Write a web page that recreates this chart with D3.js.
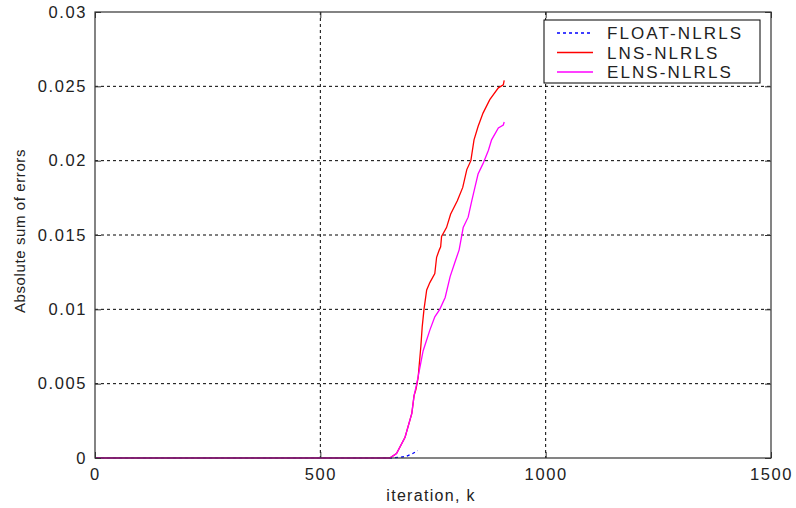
<!DOCTYPE html>
<html>
<head>
<meta charset="utf-8">
<script src="https://cdn.jsdelivr.net/npm/d3@7"></script>
<style>
  body { margin: 0; background: #fff; }
  text { font-family: "Liberation Sans", Arial, sans-serif; }
</style>
</head>
<body>
<div id="chart"></div>
<script>
// data
const xTicks = [0, 500, 1000, 1500];
const yTicks = [0, 0.005, 0.01, 0.015, 0.02, 0.025, 0.03];

const floatK = [0, 660, 690, 705, 716];
const floatV = [0, 0, 0.0001, 0.0003, 0.0005];

const lnsK = [0, 654, 669, 688, 703, 708, 712, 717, 723, 726, 730, 736, 743, 754, 758, 764, 767, 769, 780, 789, 804, 816, 825, 834, 841, 850, 861, 876, 895, 906, 908];
const lnsV = [0, 0, 0.0003, 0.0014, 0.003, 0.0042, 0.0046, 0.0054, 0.0075, 0.0088, 0.01, 0.0113, 0.0118, 0.0124, 0.0135, 0.014, 0.0142, 0.0149, 0.0155, 0.0164, 0.0173, 0.0182, 0.0194, 0.02, 0.0214, 0.0223, 0.0232, 0.0241, 0.0249, 0.0251, 0.0254];

const elnsK = [0, 654, 669, 688, 703, 708, 714, 721, 728, 743, 754, 765, 777, 788, 799, 808, 817, 828, 836, 843, 850, 861, 873, 880, 895, 906, 908];
const elnsV = [0, 0, 0.0003, 0.0014, 0.003, 0.0042, 0.005, 0.0061, 0.0072, 0.0086, 0.0095, 0.01, 0.0108, 0.0122, 0.0132, 0.014, 0.0155, 0.0162, 0.0173, 0.0182, 0.0191, 0.0198, 0.0207, 0.0214, 0.0222, 0.0224, 0.0226];

const seriesNames = ["FLOAT-NLRLS", "LNS-NLRLS", "ELNS-NLRLS"];

const series = [
  { name: seriesNames[0], k: floatK, v: floatV, color: "#0000ff", dash: "3,3" },
  { name: seriesNames[1], k: lnsK, v: lnsV, color: "#ff0000", dash: null },
  { name: seriesNames[2], k: elnsK, v: elnsV, color: "#ff00ff", dash: null }
];

const W = 796, H = 508;
const margin = { top: 12, right: 25, bottom: 50, left: 95 };
const width = W - margin.left - margin.right;
const height = H - margin.top - margin.bottom;

const svg = d3.select("#chart").append("svg")
  .attr("width", W).attr("height", H);
const g = svg.append("g").attr("transform", `translate(${margin.left},${margin.top})`);

const x = d3.scaleLinear().domain([0, 1500]).range([0, width]);
const y = d3.scaleLinear().domain([0, 0.03]).range([height, 0]);

// grid
g.append("g").selectAll("line").data(xTicks.slice(1, -1)).enter().append("line")
  .attr("x1", d => x(d)).attr("x2", d => x(d)).attr("y1", 0).attr("y2", height)
  .attr("stroke", "#000").attr("stroke-dasharray", "3,3");
g.append("g").selectAll("line").data(yTicks.slice(1, -1)).enter().append("line")
  .attr("x1", 0).attr("x2", width).attr("y1", d => y(d)).attr("y2", d => y(d))
  .attr("stroke", "#000").attr("stroke-dasharray", "3,3");

// lines
const line = d3.line().x(d => x(d[0])).y(d => y(d[1]));
series.forEach(s => {
  const pts = s.k.map((k, i) => [k, s.v[i]]);
  g.append("path").datum(pts)
    .attr("d", line)
    .attr("fill", "none")
    .attr("stroke", s.color)
    .attr("stroke-width", 1.3)
    .attr("stroke-dasharray", s.dash);
});

// box
g.append("rect").attr("width", width).attr("height", height)
  .attr("fill", "none").attr("stroke", "#333").attr("stroke-width", 1.2);

// axes (ticks point inward, like MATLAB)
const tickLen = 6;
const xAxis = g.append("g").attr("transform", `translate(0,${height})`)
  .call(d3.axisBottom(x).tickValues(xTicks).tickSizeInner(-tickLen).tickSizeOuter(0)
    .tickPadding(10).tickFormat(d3.format("d")));
const yAxis = g.append("g")
  .call(d3.axisLeft(y).tickValues(yTicks).tickSizeInner(-tickLen).tickSizeOuter(0)
    .tickPadding(8).tickFormat(d => d === 0 ? "0" : String(+d.toFixed(3))));
g.append("g").call(d3.axisTop(x).tickValues(xTicks).tickSizeInner(-tickLen).tickSizeOuter(0).tickFormat(""));
g.append("g").attr("transform", `translate(${width},0)`)
  .call(d3.axisRight(y).tickValues(yTicks).tickSizeInner(-tickLen).tickSizeOuter(0).tickFormat(""));
g.selectAll(".domain").remove();
g.selectAll(".tick line").attr("stroke", "#333");
[xAxis, yAxis].forEach(a => {
  a.selectAll("text").attr("font-size", 16.5).attr("fill", "#222")
    .attr("letter-spacing", "1.6px")
    .attr("font-family", "\"Liberation Sans\", Arial, sans-serif");
});

// axis titles
svg.append("text").attr("x", 431).attr("y", 501)
  .attr("text-anchor", "middle").attr("font-size", 16).attr("letter-spacing", "1.3px").attr("fill", "#222")
  .text("iteration, k");
svg.append("text")
  .attr("transform", "translate(25,231) rotate(-90)")
  .attr("text-anchor", "middle").attr("font-size", 15).attr("letter-spacing", "0.6px").attr("fill", "#222")
  .text("Absolute sum of errors");

// legend
const lg = svg.append("g").attr("transform", "translate(544,20)");
lg.append("rect").attr("width", 216).attr("height", 63)
  .attr("fill", "#fff").attr("stroke", "#000").attr("stroke-width", 1);
series.forEach((s, i) => {
  const yy = 13 + i * 19.5;
  lg.append("line").attr("x1", 13).attr("x2", 49).attr("y1", yy).attr("y2", yy)
    .attr("stroke", s.color).attr("stroke-width", 1.3).attr("stroke-dasharray", s.dash);
  lg.append("text").attr("x", 63).attr("y", yy).attr("dy", "0.36em")
    .attr("font-size", 17).attr("letter-spacing", "2.1px").attr("fill", "#222").text(s.name);
});
</script>
</body>
</html>
